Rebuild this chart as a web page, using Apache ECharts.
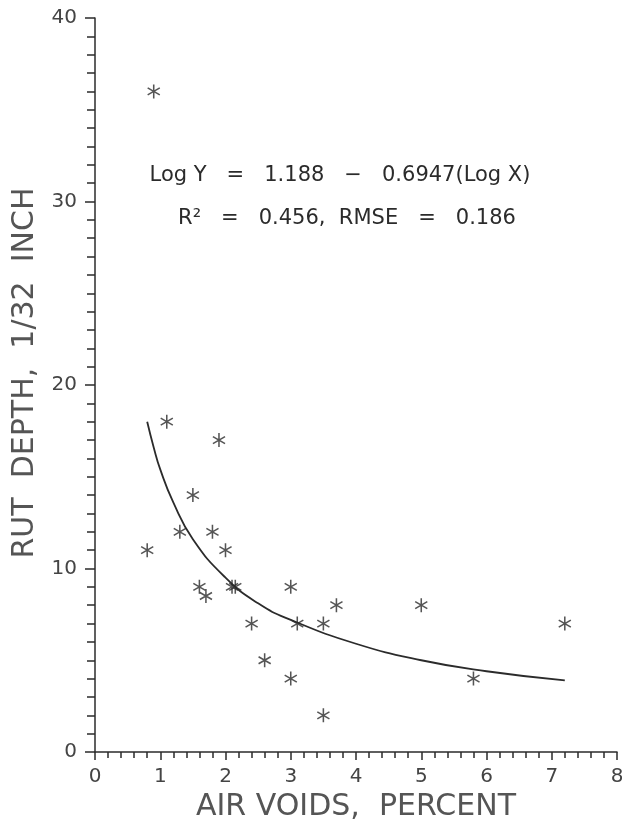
<!DOCTYPE html>
<html>
<head>
<meta charset="utf-8">
<script src="https://cdn.jsdelivr.net/npm/echarts@6/dist/echarts.min.js"></script>
<style>
  html, body { margin: 0; padding: 0; background: #fff; }
  #chart { width: 622px; height: 821px; }
</style>
</head>
<body>
<div id="chart"></div>
<script>
// measured points: air voids (%) and rut depth (1/32 in)
const airVoids = [0.9, 1.1, 1.9, 1.5, 1.8, 1.3, 0.8, 2.0, 2.1, 2.15, 1.6, 1.7, 3.0, 3.7, 2.4, 3.1, 3.5, 2.6, 3.0, 3.5, 5.0, 5.8, 7.2]
const rutDepth = [36, 18, 17, 14, 12, 12, 11, 11, 9, 9, 9, 8.5, 9, 8, 7, 7, 7, 5, 4, 2, 8, 4, 7]

// regression curve
const fitX = [0.8, 0.9, 1.0, 1.2, 1.5, 2.0, 2.5, 3.0, 4.0, 5.0, 6.0, 7.2]
const fitY = [18.0, 16.6, 15.4, 13.6, 11.6, 9.5, 8.1, 7.2, 5.9, 5.0, 4.4, 3.9]

const xTicks = [0, 8, 1]   // min, max, interval
const yTicks = [0, 40, 10]

const eqLine1 = 'Log Y   =   1.188   \u2212   0.6947(Log X)'
const eqLine2 = 'R\u00B2   =   0.456,  RMSE   =   0.186'

// six-armed asterisk made of three thin bars
const star = 'path://M-0.11,1L0.11,1L0.11,-1L-0.11,-1Z' +
  'M0.811,0.595L0.921,0.405L-0.811,-0.595L-0.921,-0.405Z' +
  'M0.921,-0.405L0.811,-0.595L-0.921,0.405L-0.811,0.595Z'

const chart = echarts.init(document.getElementById('chart'))
const ink = '#2b2b2b'
const font = 'DejaVu Sans'

const option = {
  animation: false,
  backgroundColor: '#fff',
  grid: { left: 95, right: 5, top: 18, bottom: 69, outerBoundsMode: 'none', containLabel: false },
  xAxis: {
    type: 'value',
    min: xTicks[0], max: xTicks[1], interval: xTicks[2],
    name: 'AIR VOIDS,  PERCENT',
    nameLocation: 'middle',
    nameGap: 33,
    nameTextStyle: { fontFamily: font, fontSize: 30, color: '#555' },
    axisLine: { lineStyle: { color: ink, width: 1.5 } },
    axisTick: { inside: false, length: 8, lineStyle: { color: ink, width: 1.5 } },
    minorTick: { show: true, splitNumber: 5, length: 6, lineStyle: { color: ink, width: 1.5 } },
    axisLabel: { fontFamily: font, fontSize: 20, color: '#444', margin: 15 },
    splitLine: { show: false }
  },
  yAxis: {
    type: 'value',
    min: yTicks[0], max: yTicks[1], interval: yTicks[2],
    name: 'RUT  DEPTH,  1/32  INCH',
    nameLocation: 'middle',
    nameGap: 50,
    nameTextStyle: { fontFamily: font, fontSize: 30, color: '#555', padding: [0, 0, 0, 24] },
    axisLine: { show: true, lineStyle: { color: ink, width: 1.5 } },
    axisTick: { show: true, length: 10, lineStyle: { color: ink, width: 1.5 } },
    minorTick: { show: true, splitNumber: 10, length: 8, lineStyle: { color: ink, width: 1.5 } },
    axisLabel: { fontFamily: font, fontSize: 20, color: '#444', margin: 18 },
    splitLine: { show: false }
  },
  graphic: [
    {
      type: 'text', x: 340, y: 176,
      style: { text: eqLine1, fontFamily: font, fontSize: 21, fill: ink, align: 'center', verticalAlign: 'middle' }
    },
    {
      type: 'text', x: 347, y: 219,
      style: { text: eqLine2, fontFamily: font, fontSize: 21, fill: ink, align: 'center', verticalAlign: 'middle' }
    }
  ],
  series: [
    {
      type: 'line',
      data: fitX.map((x, i) => [x, fitY[i]]),
      smooth: true,
      showSymbol: false,
      lineStyle: { color: ink, width: 1.8 },
      z: 2
    },
    {
      type: 'scatter',
      data: airVoids.map((x, i) => [x, rutDepth[i]]),
      symbol: star,
      symbolKeepAspect: true,
      symbolSize: 14,
      itemStyle: { color: ink },
      z: 3
    }
  ]
}

chart.setOption(option)
</script>
</body>
</html>
